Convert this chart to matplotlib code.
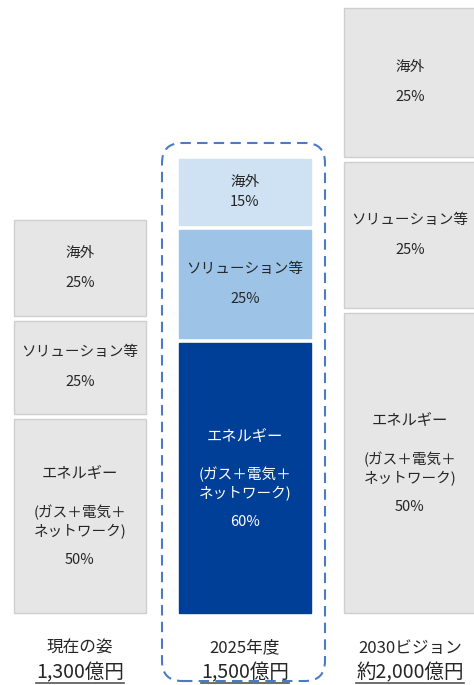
import matplotlib
matplotlib.use('Agg')
import matplotlib.pyplot as plt
from matplotlib.patches import FancyBboxPatch
from matplotlib.lines import Line2D
from matplotlib.transforms import IdentityTransform

plt.rcParams['font.family'] = ['Noto Sans CJK JP', 'DejaVu Sans']

# data
stages = ['現在の姿', '2025年度', '2030ビジョン']
totals = [1300, 1500, 2000]
total_labels = ['1,300億円', '1,500億円', '約2,000億円']
segment_names = ['エネルギー', 'ソリューション等', '海外']   # bottom -> top
energy_pct = [50, 60, 50]
solution_pct = [25, 25, 25]
overseas_pct = [25, 15, 25]

# styles
gray_fill = '#e6e6e6'
gray_edge = '#cfcfcf'
blue_fills = ['#003f98', '#9dc3e6', '#cfe2f3']
text_col = '#262626'
px_per_unit = 605 / 2000   # vertical scale (pixels per 億円)
gap = 5 / px_per_unit       # white gap between segments

fig = plt.figure(figsize=(4.74, 6.85), dpi=100)
ax = fig.add_axes([0, 0, 1, 1])
ax.set_xlim(-80 / 165, 394 / 165)
ax.set_ylim(-72 / px_per_unit, 613 / px_per_unit)
ax.axis('off')

pt = 0.72  # points per pixel


def put(x, y, s, dy_px, size, color):
    ax.annotate(s, (x, y), xytext=(0, -dy_px * pt), textcoords='offset points',
                ha='center', va='center', fontsize=size, color=color)


for i, stage in enumerate(stages):
    pcts = [energy_pct[i], solution_pct[i], overseas_pct[i]]
    bottom = 0
    for j, p in enumerate(pcts):
        val = totals[i] * p / 100
        b = bottom + (gap / 2 if j > 0 else 0)
        h = val - (gap / 2 if j > 0 else 0) - (gap / 2 if j < 2 else 0)
        if i == 1:
            fc, ec = blue_fills[j], blue_fills[j]
        else:
            fc, ec = gray_fill, gray_edge
        ax.bar(i, h, bottom=b, width=0.8, color=fc, edgecolor=ec, linewidth=1)
        tc = 'white' if (i == 1 and j == 0) else text_col
        cy = b + h / 2
        if j == 0:
            put(i, cy, 'エネルギー', -43, 11, tc)
            put(i, cy, '(ガス＋電気＋', -4, 10.5, tc)
            put(i, cy, 'ネットワーク)', 16, 10.5, tc)
            put(i, cy, f'{p}%', 44, 10.5, tc)
        else:
            sp = 15 if h * px_per_unit > 80 else 10
            put(i, cy, segment_names[j], -sp, 10.5, tc)
            put(i, cy, f'{p}%', sp, 10.5, tc)
        bottom += val

# category labels under bars
amount_texts = []
for i, stage in enumerate(stages):
    ax.annotate(stage, (i, 0), xytext=(0, -35 * pt), textcoords='offset points',
                ha='center', va='center', fontsize=12, color=text_col)
    t = ax.annotate(total_labels[i], (i, 0), xytext=(0, -60 * pt), textcoords='offset points',
                    ha='center', va='center', fontsize=14, color=text_col)
    amount_texts.append(t)

fig.canvas.draw()
for t in amount_texts:
    bb = t.get_window_extent()
    fig.add_artist(Line2D([bb.x0, bb.x1], [bb.y0 + 1, bb.y0 + 1], color='#555555',
                          linewidth=1.2, transform=IdentityTransform()))

# dashed rounded frame around the 2025 bar
frame = FancyBboxPatch((162, 4), 163, 538, boxstyle='round,pad=0,rounding_size=20',
                       fill=False, edgecolor='#4a7cc4', linewidth=1.5,
                       linestyle=(0, (5, 3)), transform=IdentityTransform())
fig.add_artist(frame)

fig.savefig('out.png', dpi=100)
